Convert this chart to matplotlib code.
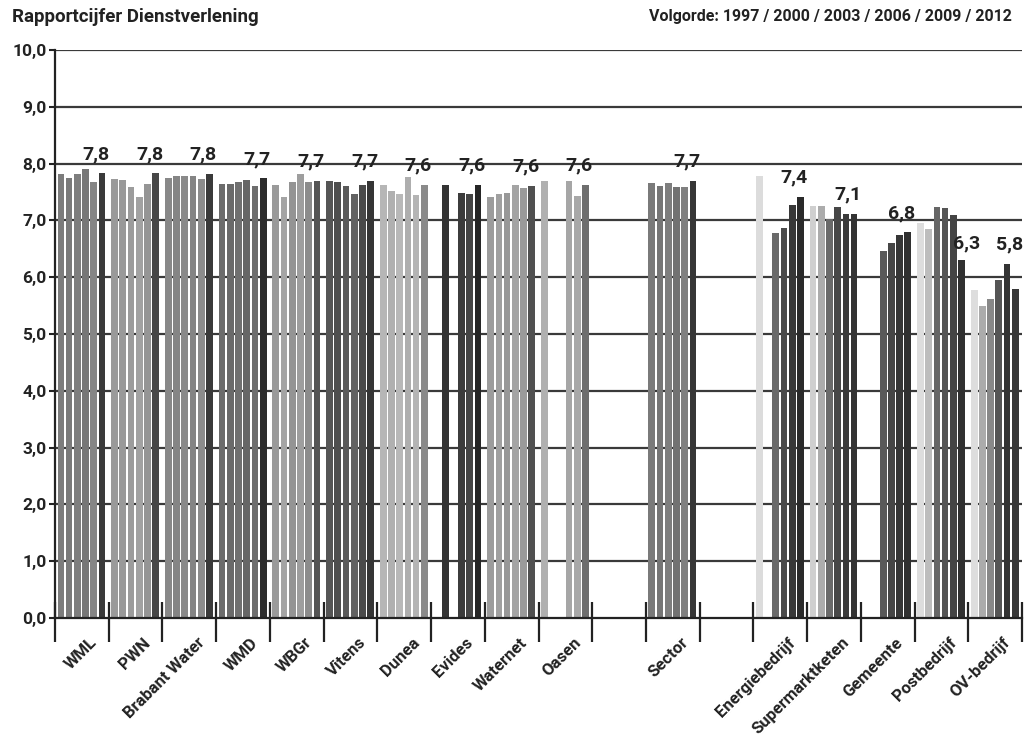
import matplotlib
matplotlib.use("Agg")
import matplotlib.pyplot as plt
from matplotlib.ticker import FuncFormatter
import numpy as np

plt.rcParams['font.family'] = ['Roboto', 'DejaVu Sans']

nan = np.nan

groups = ["WML", "PWN", "Brabant Water", "WMD", "WBGr", "Vitens", "Dunea",
          "Evides", "Waternet", "Oasen", "Sector", "Energiebedrijf",
          "Supermarktketen", "Gemeente", "Postbedrijf", "OV-bedrijf"]
years = ["1997", "2000", "2003", "2006", "2009", "2012"]

v1997 = [7.82, 7.73, 7.75, 7.64, 7.62, 7.70, 7.62, nan, 7.41, 7.69, 7.66, 7.79, 7.26, nan, 6.95, 5.78]
v2000 = [7.75, 7.72, 7.79, 7.64, 7.41, 7.67, 7.51, 7.63, 7.46, nan, 7.61, nan, 7.26, nan, 6.84, 5.50]
v2003 = [7.82, 7.59, 7.79, 7.68, 7.67, 7.60, 7.46, nan, 7.49, nan, 7.66, 6.78, 7.03, 6.47, 7.24, 5.62]
v2006 = [7.90, 7.41, 7.79, 7.71, 7.82, 7.46, 7.76, 7.49, 7.63, 7.69, 7.58, 6.87, 7.24, 6.60, 7.21, 5.95]
v2009 = [7.67, 7.64, 7.73, 7.61, 7.67, 7.63, 7.45, 7.46, 7.57, 7.43, 7.58, 7.27, 7.11, 6.75, 7.09, 6.24]
v2012 = [7.83, 7.83, 7.82, 7.74, 7.70, 7.69, 7.62, 7.62, 7.61, 7.62, 7.69, 7.42, 7.11, 6.79, 6.30, 5.79]
labels_2012 = [7.8, 7.8, 7.8, 7.7, 7.7, 7.7, 7.6, 7.6, 7.6, 7.6, 7.7, 7.4, 7.1, 6.8, 6.3, 5.8]

# slot index of each group on the x axis (gaps before Sector and the other sectors)
slots = [0, 1, 2, 3, 4, 5, 6, 7, 8, 9, 11, 13, 14, 15, 16, 17]
n_slots = 18

# grey shades per group, one per year
shades = [
    ["#7c7c7c", "#7a7a7a", "#7e7e7e", "#777777", "#858585", "#3a3a3a"],
    ["#9a9a9a", "#999999", "#9c9c9c", "#a2a2a2", "#959595", "#474747"],
    ["#888888", "#858585", "#8a8a8a", "#848484", "#8c8c8c", "#3a3a3a"],
    ["#6c6c6c", "#6a6a6a", "#707070", "#666666", "#6e6e6e", "#2c2c2c"],
    ["#9a9a9a", "#a4a4a4", "#949494", "#9e9e9e", "#8c8c8c", "#555555"],
    ["#555555", "#4e4e4e", "#5a5a5a", "#626262", "#4a4a4a", "#353535"],
    ["#b6b6b6", "#b0b0b0", "#b8b8b8", "#aeaeae", "#b4b4b4", "#8a8a8a"],
    ["#3a3a3a", "#333333", "#3a3a3a", "#3c3c3c", "#454545", "#262626"],
    ["#9c9c9c", "#a0a0a0", "#989898", "#a4a4a4", "#9a9a9a", "#505050"],
    ["#b0b0b0", "#aaaaaa", "#aaaaaa", "#a6a6a6", "#a8a8a8", "#6e6e6e"],
    ["#7a7a7a", "#767676", "#7e7e7e", "#727272", "#808080", "#363636"],
    ["#dcdcdc", "#cccccc", "#6a6a6a", "#4a4a4a", "#383838", "#2a2a2a"],
    ["#cfcfcf", "#acacac", "#6a6a6a", "#474747", "#3a3a3a", "#333333"],
    ["#5a5a5a", "#5a5a5a", "#595959", "#464646", "#363636", "#303030"],
    ["#dddddd", "#bdbdbd", "#666666", "#555555", "#444444", "#303030"],
    ["#dddddd", "#ababab", "#888888", "#555555", "#333333", "#383838"],
]


def _main():
    fig = plt.figure(figsize=(10.25, 7.37), dpi=100)
    ax = fig.add_axes([55 / 1025, 119 / 737, 967 / 1025, 568 / 737])

    values = np.array([v1997, v2000, v2003, v2006, v2009, v2012])
    bar_w = 0.125
    step = 0.153
    first = 0.11

    for g, name in enumerate(groups):
        s = slots[g]
        for j in range(len(years)):
            val = values[j, g]
            if np.isnan(val):
                continue
            ax.bar(s + first + j * step, val, width=bar_w, color=shades[g][j],
                   linewidth=0, zorder=2)

        # value label for 2012
        if name == "Postbedrijf":
            lx = s + 0.97
            ly = values[5, g] + 0.3
        else:
            lx = s + 0.76
            ly = np.nanmax(values[4:6, g]) + 0.34
        ax.text(lx, ly, f"{labels_2012[g]:.1f}".replace(".", ","),
                ha="center", va="center", fontsize=14, fontweight="bold",
                color="#222222", zorder=4)

        # group label
        ax.text(s + 0.64, -0.3, name, rotation=45, rotation_mode="anchor",
                ha="right", va="top", fontsize=12, fontweight="bold",
                color="#222222")

    ax.set_xlim(0, n_slots)
    ax.set_ylim(0, 10)

    for y in range(1, 11):
        ax.axhline(y, color="#3a3a3a", linewidth=1.6, zorder=1)

    ax.set_yticks(np.arange(0, 11, 1))
    ax.yaxis.set_major_formatter(FuncFormatter(lambda v, p: f"{v:.1f}".replace(".", ",")))
    ax.tick_params(axis="y", direction="out", length=4, width=1.5,
                   labelsize=12.5, colors="#222222", pad=2)
    for lab in ax.get_yticklabels():
        lab.set_fontweight("bold")

    # slot boundary ticks, reaching above and below the axis
    ax.set_xticks(np.arange(0, n_slots + 1, 1))
    ax.set_xticks(np.arange(0, n_slots + 1, 1), minor=True)
    ax.xaxis.remove_overlapping_locs = False
    ax.tick_params(axis="x", which="major", direction="out", length=17,
                   width=1.6, labelbottom=False, color="#222222")
    ax.tick_params(axis="x", which="minor", direction="in", length=11.5,
                   width=1.6, color="#222222")

    for side in ["top", "right"]:
        ax.spines[side].set_visible(False)
    ax.spines["left"].set_linewidth(1.6)
    ax.spines["bottom"].set_linewidth(1.6)
    ax.spines["left"].set_color("#222222")
    ax.spines["bottom"].set_color("#222222")
    ax.spines["bottom"].set_zorder(3)

    fig.text(12 / 1025, 1 - 17 / 737, "Rapportcijfer Dienstverlening",
             ha="left", va="center", fontsize=13.5, fontweight="bold", color="#222222")
    fig.text(1012 / 1025, 1 - 17 / 737,
             "Volgorde: 1997 / 2000 / 2003 / 2006 / 2009 / 2012",
             ha="right", va="center", fontsize=11.5, fontweight="bold", color="#222222")

    fig.savefig("out.png", dpi=100)


if __name__ == '__main__':
    _main()
